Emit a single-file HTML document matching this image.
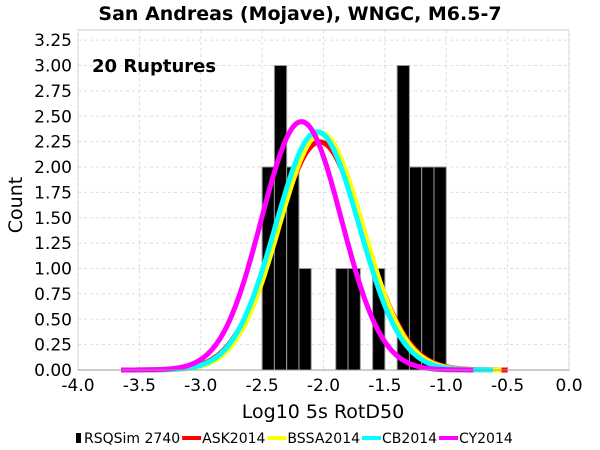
<!DOCTYPE html>
<html><head><meta charset="utf-8"><style>
body{margin:0;background:#fff;}
svg{display:block;font-family:"DejaVu Sans","Liberation Sans",sans-serif;}
</style></head><body>
<svg id="c" width="600" height="450">
<text x="300" y="20" text-anchor="middle" font-size="19" font-weight="bold">San Andreas (Mojave), WNGC, M6.5-7</text>
<g id="grid"></g><g id="bars"></g><g id="lines"></g><g id="axes"></g>
<text x="92" y="72" font-size="18" font-weight="bold">20 Ruptures</text>
<text x="323" y="418" text-anchor="middle" font-size="19">Log10 5s RotD50</text>
<text transform="translate(22,205) rotate(-90)" text-anchor="middle" font-size="19">Count</text>
<g id="legend" font-size="14"></g>
</svg>
<script>
const binStarts=[-2.5,-2.4,-2.3,-2.2,-1.9,-1.8,-1.6,-1.4,-1.3,-1.2,-1.1];
const binCounts=[2,3,2,1,1,1,1,3,2,2,2];
const binWidth=0.1;
const seriesNames=["ASK2014","BSSA2014","CB2014","CY2014"];
const seriesColors=["#ff0000","#ffff00","#00ffff","#ff00ff"];
const seriesMeans=[-2.03,-2.02,-2.05,-2.18];
const seriesSigmas=[0.355,0.342,0.34,0.326];
const seriesStart=[-3.6,-3.6,-3.6,-3.65];
const seriesEnd=[-0.5,-0.55,-0.62,-0.78];
const xTicks=[-4.0,-3.5,-3.0,-2.5,-2.0,-1.5,-1.0,-0.5,0.0];
const yTicks=[0,0.25,0.5,0.75,1,1.25,1.5,1.75,2,2.25,2.5,2.75,3,3.25];
const X0=78,X1=569,Y0=370,Y1=30;
const xs=v=>X0+(v+4)/4*(X1-X0);
const ys=v=>Y0-v*101.5;
const NS="http://www.w3.org/2000/svg";
function mk(t,a,p){const e=document.createElementNS(NS,t);for(const k in a)e.setAttribute(k,a[k]);p.appendChild(e);return e;}
const grid=document.getElementById('grid'),axes=document.getElementById('axes');
mk('rect',{x:X0,y:Y1,width:X1-X0,height:Y0-Y1,fill:'none',stroke:'#ccc'},grid);
xTicks.forEach(t=>{
 const l=mk('line',{x1:xs(t),x2:xs(t),y1:Y1,y2:Y0,stroke:'#ddd','stroke-dasharray':'3,3'},grid);
 
 
 const tx=mk('text',{x:xs(t),y:Y0+21,'text-anchor':'middle','font-size':17},axes);tx.textContent=t.toFixed(1);
 
 
});
yTicks.forEach(t=>{
 const l=mk('line',{x1:X0,x2:X1,y1:ys(t),y2:ys(t),stroke:'#ddd','stroke-dasharray':'3,3'},grid);
 
 
 const tx=mk('text',{x:X0-6,y:ys(t)+6,'text-anchor':'end','font-size':17},axes);tx.textContent=t.toFixed(2);
 
 
});
mk('line',{x1:X0,x2:X1,y1:Y0,y2:Y0,stroke:'#999'},axes);
const bars=document.getElementById('bars');
binStarts.forEach((s,i)=>{
 const r=mk('rect',{x:xs(s),y:ys(binCounts[i]),width:xs(s+binWidth)-xs(s),height:Y0-ys(binCounts[i]),fill:'#000',stroke:'#999','stroke-width':1},bars);
 
 
});
const total=binCounts.reduce((a,b)=>a+b,0);
const lines=document.getElementById('lines');
seriesNames.forEach((n,i)=>{
 let d='';
 for(let k=0;k<=200;k++){const x=seriesStart[i]+(seriesEnd[i]-seriesStart[i])*k/200;
  const y=total*binWidth/(seriesSigmas[i]*Math.sqrt(2*Math.PI))*Math.exp(-0.5*((x-seriesMeans[i])/seriesSigmas[i])**2);
  d+=(k?'L':'M')+xs(x).toFixed(1)+','+ys(y).toFixed(1);}
 const p=mk('path',{d:d,fill:'none',stroke:seriesColors[i],'stroke-width':5,'stroke-linejoin':'round'},lines);
 
 
});
const lg=document.getElementById('legend');
let lx=76;const ly=443;
const sq=mk('rect',{x:lx,y:ly-10,width:5,height:10,fill:'#000'},lg);


let t0=mk('text',{x:lx+8,y:ly},lg);t0.textContent='RSQSim 2740';


lx+=8+t0.getComputedTextLength()+2;
seriesNames.forEach((n,i)=>{
 const r=mk('rect',{x:lx,y:ly-7,width:19,height:4,fill:seriesColors[i]},lg);
 
 
 const t=mk('text',{x:lx+20,y:ly},lg);t.textContent=n;
 
 
 lx+=20+t.getComputedTextLength()+2;
});
</script>
</body></html>
